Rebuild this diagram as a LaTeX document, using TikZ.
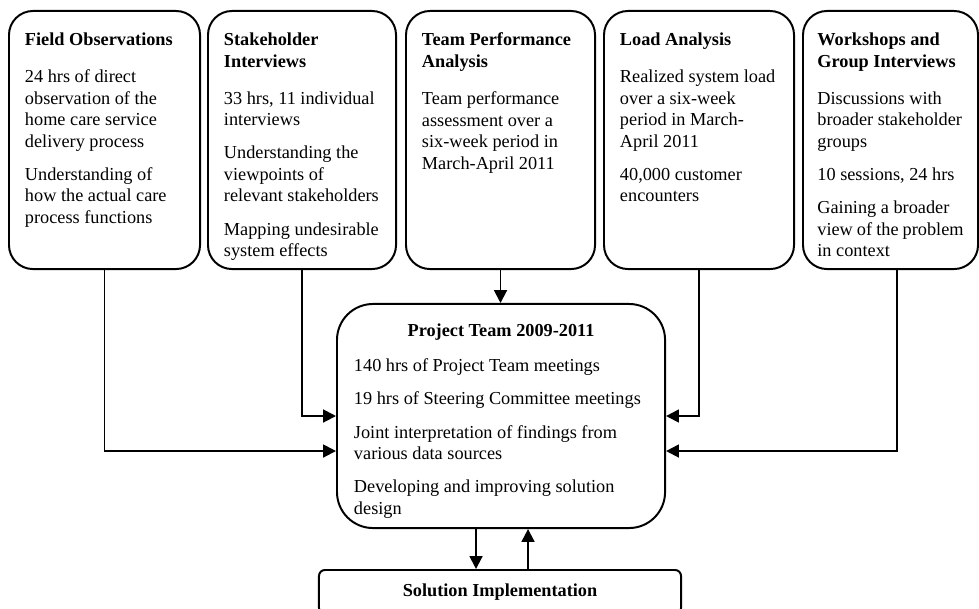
\documentclass[tikz,border=0pt]{standalone}
\usepackage{fontspec}
\setmainfont{Liberation Serif}
\usetikzlibrary{arrows.meta}

\newcommand{\diagfont}{\fontsize{13pt}{15.3pt}\selectfont}
% top-aligned text block of fixed height
\newcommand{\srctext}[2]{\parbox[c][5.35cm][t]{#1}{\raggedright\setlength{\parskip}{0.29cm}#2}}
\newcommand{\boxtitle}[1]{{\bfseries #1\par}\vspace{0.1cm}}

\begin{document}
\begin{tikzpicture}[
    x=0.025cm, y=-0.025cm,
    srcbox/.style={draw, line width=1.4pt, rounded corners=0.6cm, anchor=north west,
      inner xsep=0.4cm, inner ysep=0.55cm, font=\diagfont},
    teambox/.style={draw, line width=1.4pt, rounded corners=0.9cm, anchor=north west,
      inner xsep=0.425cm, inner ysep=0.5cm, font=\diagfont},
    implbox/.style={draw, line width=1.4pt, rounded corners=0.15cm, minimum width=9.05cm,
      minimum height=1.1cm, font=\diagfont\bfseries},
    arr/.style={-{Triangle[length=0.32cm, width=0.32cm]}, line width=1.4pt}
  ]
  \useasboundingbox (0,0) rectangle (979,609);

  % Data sources
  \node[srcbox] (b1) at (8,10) {\srctext{3.975cm}{%
      \boxtitle{Field Observations}
      24 hrs of direct\\ observation of the\\ home care service\\ delivery process

      Understanding of\\ how the actual care\\ process functions}};
  \node[srcbox] (b2) at (207,10) {\srctext{3.9cm}{%
      \boxtitle{Stakeholder\\ Interviews}
      33 hrs, 11 individual\\ interviews

      Understanding the\\ viewpoints of\\ relevant stakeholders

      Mapping undesirable\\ system effects}};
  \node[srcbox] (b3) at (405,10) {\srctext{3.925cm}{%
      \boxtitle{Team Performance\\ Analysis}
      Team performance\\ assessment over a\\ six-week period in\\ March-April 2011}};
  \node[srcbox] (b4) at (603,10) {\srctext{3.95cm}{%
      \boxtitle{Load Analysis}
      Realized system load\\ over a six-week\\ period in March-\\ April 2011

      40,000 customer\\ encounters}};
  \node[srcbox, inner xsep=0.36cm] (b5) at (802,10) {\srctext{3.655cm}{%
      \boxtitle{Workshops and\\ Group Interviews}
      Discussions with\\ broader stakeholder\\ groups

      10 sessions, 24 hrs

      Gaining a broader\\ view of the problem\\ in context}};

  % Project team
  \node[teambox] (pt) at (336,303) {\parbox[c][4.6cm][t]{7.35cm}{%
      \raggedright\setlength{\parskip}{0.29cm}%
      {\centering\bfseries Project Team 2009-2011\par}\vspace{0.05cm}
      140 hrs of Project Team meetings

      19 hrs of Steering Committee meetings

      Joint interpretation of findings from\\ various data sources

      Developing and improving solution\\ design}};

  % Implementation
  \node[implbox] (sol) at (500,592) {Solution Implementation};

  \draw[arr] (b1.south) |- ([yshift=-0.875cm]pt.west);
  \draw[arr] (b2.south) |- (pt.west);
  \draw[arr] (b3.south) -- (b3.south |- pt.north);
  \draw[arr] (b4.south) |- (pt.east);
  \draw[arr] ([xshift=0.16cm]b5.south) |- ([yshift=-0.875cm]pt.east);
  \draw[arr] ([xshift=-0.625cm]pt.south) -- ([xshift=-0.625cm]pt.south |- sol.north);
  \draw[arr] ([xshift=0.675cm]pt.south |- sol.north) -- ([xshift=0.675cm]pt.south);
\end{tikzpicture}
\end{document}
